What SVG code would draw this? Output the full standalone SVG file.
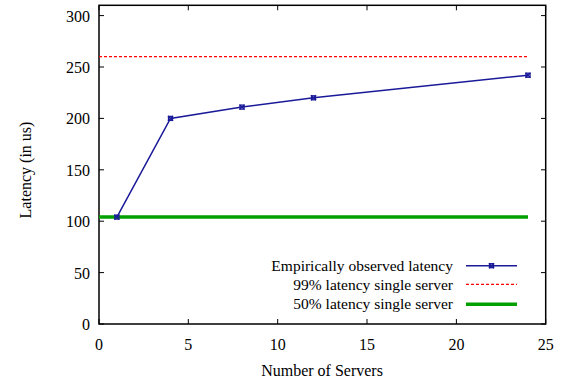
<svg xmlns="http://www.w3.org/2000/svg" width="562" height="384" viewBox="0 0 562 384">
<defs>
<g id="m" fill="none" stroke="#1a1a99" stroke-width="1.3"><rect x="-2" y="-2" width="4" height="4"/><path d="M-2.5,-2.5L2.5,2.5M-2.5,2.5L2.5,-2.5"/></g>
</defs>
<rect width="562" height="384" fill="#fff"/>
<g id="axes">
<g stroke="#000" stroke-width="1" fill="none">
<path d="M99,324h5M546,324h-5M99,272.6h5M546,272.6h-5M99,221.2h5M546,221.2h-5M99,169.8h5M546,169.8h-5M99,118.4h5M546,118.4h-5M99,67h5M546,67h-5M99,15.6h5M546,15.6h-5"/>
<path d="M99,324v-5M99,5.3v5M188.3,324v-5M188.3,5.3v5M277.7,324v-5M277.7,5.3v5M367,324v-5M367,5.3v5M456.4,324v-5M456.4,5.3v5M545.7,324v-5M545.7,5.3v5"/>
</g>
<rect x="99" y="5.3" width="446.7" height="318.7" fill="none" stroke="#000" stroke-width="1.5"/>
<text x="90" y="330" font-family="Liberation Serif" font-size="16" text-anchor="end">0</text>
<text x="90" y="278.6" font-family="Liberation Serif" font-size="16" text-anchor="end">50</text>
<text x="90" y="227.2" font-family="Liberation Serif" font-size="16" text-anchor="end">100</text>
<text x="90" y="175.8" font-family="Liberation Serif" font-size="16" text-anchor="end">150</text>
<text x="90" y="124.4" font-family="Liberation Serif" font-size="16" text-anchor="end">200</text>
<text x="90" y="73" font-family="Liberation Serif" font-size="16" text-anchor="end">250</text>
<text x="90" y="21.6" font-family="Liberation Serif" font-size="16" text-anchor="end">300</text>
<text x="99" y="350" font-family="Liberation Serif" font-size="16" text-anchor="middle">0</text>
<text x="188.3" y="350" font-family="Liberation Serif" font-size="16" text-anchor="middle">5</text>
<text x="277.7" y="350" font-family="Liberation Serif" font-size="16" text-anchor="middle">10</text>
<text x="367" y="350" font-family="Liberation Serif" font-size="16" text-anchor="middle">15</text>
<text x="456.4" y="350" font-family="Liberation Serif" font-size="16" text-anchor="middle">20</text>
<text x="545.7" y="350" font-family="Liberation Serif" font-size="16" text-anchor="middle">25</text>
<text x="322" y="376" font-family="Liberation Serif" font-size="16" text-anchor="middle">Number of Servers</text>
<text transform="translate(31,170) rotate(-90)" font-family="Liberation Serif" font-size="16" text-anchor="middle">Latency (in us)</text>
</g>
<g id="connectors" fill="none">
<path d="M99,56.7H528" stroke="#ff0000" stroke-width="1.2" stroke-dasharray="3,2"/>
<path d="M99,217.1H528" stroke="#00a000" stroke-width="3.5"/>
<path d="M116.9,217.1L170.5,118.4L242,107.1L313.5,97.8L528,75.2" stroke="#1a1a99" stroke-width="1.5"/>
</g>
<g id="markers">
<use href="#m" x="116.9" y="217.1"/>
<use href="#m" x="170.5" y="118.4"/>
<use href="#m" x="242" y="107.1"/>
<use href="#m" x="313.5" y="97.8"/>
<use href="#m" x="528" y="75.2"/>
</g>
<g id="legend">
<text x="453" y="271" font-family="Liberation Serif" font-size="15.5" text-anchor="end">Empirically observed latency</text>
<text x="453" y="290" font-family="Liberation Serif" font-size="15.5" text-anchor="end">99% latency single server</text>
<text x="453" y="309" font-family="Liberation Serif" font-size="15.5" text-anchor="end">50% latency single server</text>
<path d="M466,265.7H517" fill="none" stroke="#1a1a99" stroke-width="1.5"/>
<use href="#m" x="491.5" y="265.7"/>
<path d="M466,284.3H517" fill="none" stroke="#ff0000" stroke-width="1.2" stroke-dasharray="3,2"/>
<path d="M466,304.3H517" fill="none" stroke="#00a000" stroke-width="3.5"/>
</g>
</svg>
